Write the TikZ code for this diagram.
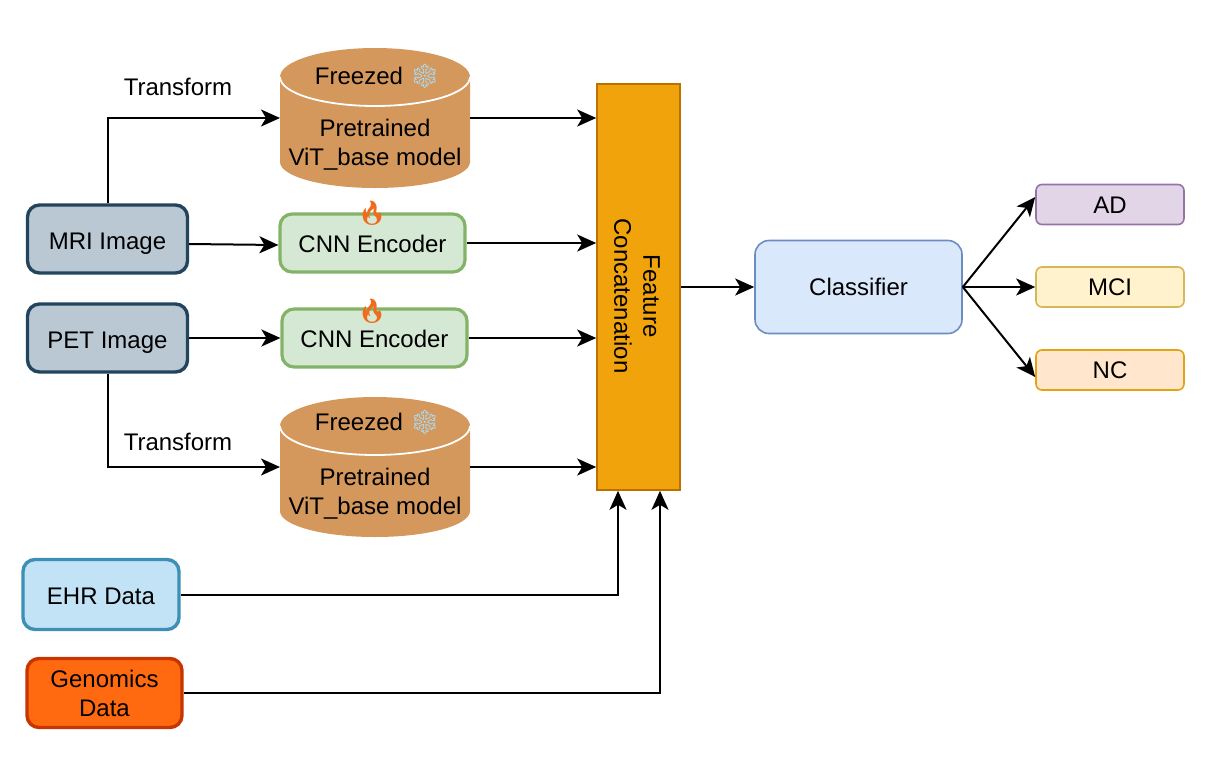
\documentclass[tikz,border=0pt]{standalone}
\usepackage{fontspec}
\setmainfont{Liberation Sans}
\newfontfamily\emojifont{Noto Emoji}
\usetikzlibrary{arrows.meta}
\definecolor{imgfill}{HTML}{BAC8D3}
\definecolor{imgline}{HTML}{23445D}
\definecolor{vitfill}{HTML}{D4975C}
\definecolor{ehrfill}{HTML}{C1E3F5}
\definecolor{ehrline}{HTML}{3D8FB5}
\definecolor{genfill}{HTML}{FF6A10}
\definecolor{genline}{HTML}{C73500}
\definecolor{encfill}{HTML}{D5E8D4}
\definecolor{encline}{HTML}{82B366}
\definecolor{catfill}{HTML}{F0A30A}
\definecolor{catline}{HTML}{BD7000}
\definecolor{clsfill}{HTML}{DAE8FC}
\definecolor{clsline}{HTML}{6C8EBF}
\definecolor{adfill}{HTML}{E1D5E7}
\definecolor{adline}{HTML}{9673A6}
\definecolor{mcifill}{HTML}{FFF2CC}
\definecolor{mciline}{HTML}{D6B656}
\definecolor{ncfill}{HTML}{FFE6CC}
\definecolor{ncline}{HTML}{E3A314}
\definecolor{snow}{HTML}{A8DDF7}
\definecolor{fire}{HTML}{F26A1B}
\tikzset{
    flow/.style={draw=black,line width=1pt,-{Stealth[length=9.5pt,width=8.5pt,inset=2.5pt]}},
    databox/.style={rounded corners=6pt,line width=1.7pt,minimum height=34pt,align=center,inner sep=0pt},
    imgbox/.style={databox,draw=imgline,fill=imgfill,minimum width=80pt,text height=10.2pt,text depth=0pt},
    encbox/.style={draw=encline,fill=encfill,rounded corners=6pt,line width=1.6pt,minimum width=92.5pt,minimum height=29pt,inner sep=0pt,text height=9.6pt,text depth=0pt},
    classbox/.style={rounded corners=3pt,line width=0.8pt,minimum width=74pt,minimum height=20pt,inner sep=0pt,text height=8.8pt,text depth=0pt},
    vitbox/.style={minimum width=95pt,minimum height=70pt,inner sep=0pt,outer sep=0pt},
}
% cylinder drawn on a named box
\newcommand{\vitbody}[1]{
    \fill[vitfill] ([yshift=-14.5pt]#1.north west) arc[start angle=180,end angle=0,x radius=47.5pt,y radius=14.5pt]
        -- ([yshift=13pt]#1.south east) arc[start angle=0,end angle=-180,x radius=47.5pt,y radius=13pt] -- cycle;
    \draw[white,line width=0.9pt] ([yshift=-14.5pt]#1.north west) arc[start angle=180,end angle=360,x radius=47.5pt,y radius=14.5pt];
}
\begin{document}
\begin{tikzpicture}[x=0.5pt,y=-0.5pt,font=\fontsize{12}{14.5}\selectfont]
\useasboundingbox (0,0) rectangle (1219,766);

% Inputs
\node (mri) at (107.5,239) [imgbox] {MRI Image};
\node (pet) at (107.5,338) [imgbox] {PET Image};
\node (ehr) at (101,594.5) [databox,draw=ehrline,fill=ehrfill,minimum width=78pt,minimum height=35pt,text height=9.6pt,text depth=0pt] {EHR Data};
\node (gen) at (104.5,693) [databox,draw=genline,fill=genfill,minimum width=77.5pt,minimum height=34.5pt] {Genomics\\Data};

% Frozen models
\node (vitmri) at (375,118) [vitbox] {};
\vitbody{vitmri}
\node (freezemri) at (377.5,76) {Freezed \textcolor{snow}{\emojifont ❄}};
\node (textmri) at (375,145) [align=center] {Pretrained\\ViT\_base model};
\node (vitpet) at (375,467) [vitbox] {};
\vitbody{vitpet}
\node (freezepet) at (377.5,422) {Freezed \textcolor{snow}{\emojifont ❄}};
\node (textpet) at (375,494) [align=center] {Pretrained\\ViT\_base model};

% Encoders
\node (cnnmri) at (372.5,243) [encbox] {CNN Encoder};
\node (cnnpet) at (374.5,338) [encbox] {CNN Encoder};
\node (firemri) at (372,213) {\textcolor{fire}{\emojifont 🔥}};
\node (firepet) at (372,311) {\textcolor{fire}{\emojifont 🔥}};

% Fusion
\node (concat) at (638.5,287) [draw=catline,fill=catfill,line width=0.8pt,minimum width=41.5pt,minimum height=203pt,inner sep=0pt] {};
\node (concattext) at (637,296) [rotate=-90,align=center] {Feature\\Concatenation};
\node (classifier) at (858.5,287) [draw=clsline,fill=clsfill,rounded corners=7pt,line width=0.8pt,minimum width=103.5pt,minimum height=46.5pt,inner sep=0pt] {Classifier};

% Outputs
\node (ad) at (1110,204.5) [classbox,draw=adline,fill=adfill] {AD};
\node (mci) at (1110,287) [classbox,draw=mciline,fill=mcifill] {MCI};
\node (nc) at (1110,370) [classbox,draw=ncline,fill=ncfill] {NC};

% Labels
\node (lblmri) at (178,87) {Transform};
\node (lblpet) at (178,442) {Transform};

% Connectors
\draw[flow] (mri.north) |- (vitmri.west);
\draw[flow] (pet.south) |- (vitpet.west);
\draw[flow] ([yshift=-2.5pt]mri.east) -- ([yshift=-1pt]cnnmri.west);
\draw[flow] (pet.east) -- (cnnpet.west);
\draw[flow] (vitmri.east) -- (concat.west |- vitmri.east);
\draw[flow] (cnnmri.east) -- (concat.west |- cnnmri.east);
\draw[flow] (cnnpet.east) -- (concat.west |- cnnpet.east);
\draw[flow] (vitpet.east) -- (concat.west |- vitpet.east);
\coordinate (ehrin) at ([xshift=-10.25pt]concat.south);
\coordinate (genin) at ([xshift=10.75pt]concat.south);
\draw[flow] (ehr.east) -| (ehrin);
\draw[flow] (gen.east) -| (genin);
\draw[flow] (concat.east) -- (classifier.west);
\draw[flow] (classifier.east) -- ([yshift=3.75pt]ad.west);
\draw[flow] (classifier.east) -- (mci.west);
\draw[flow] (classifier.east) -- ([yshift=-3.5pt]nc.west);
\end{tikzpicture}
\end{document}
